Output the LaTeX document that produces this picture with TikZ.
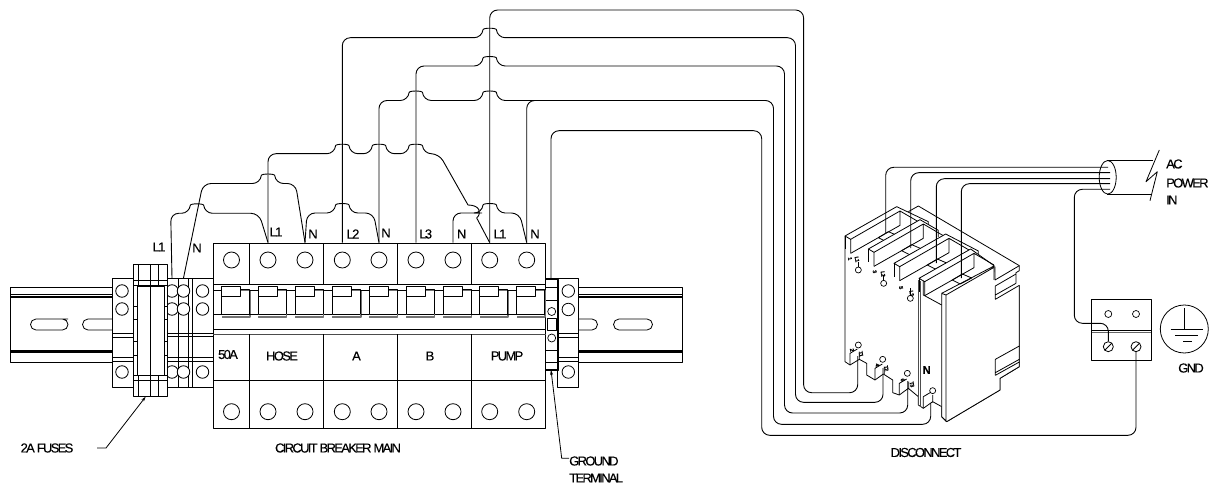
\documentclass[tikz,border=0pt]{standalone}
\usepackage{fontspec}
\setmainfont{Liberation Sans}[LetterSpace=-13,FakeBold=0.12]
\usetikzlibrary{arrows.meta,shapes.geometric}
\newcommand{\hop}[2]{-- (#1-7.5,#2) .. controls (#1-6.5,#2-10) and (#1+6.5,#2-10) .. (#1+7.5,#2)}
\tikzset{
  ln/.style={line width=0.8pt,draw=black},
  wire/.style={line width=0.9pt,draw=black,rounded corners=8pt},
  term/.style={circle,draw,line width=0.8pt,inner sep=0pt,minimum size=16pt},
  smallterm/.style={circle,draw,line width=0.8pt,fill=white,inner sep=0pt,minimum size=12.5pt},
  lab/.style={font=\fontsize{13}{13}\selectfont,inner sep=0pt,text=black},
  tiny/.style={font=\bfseries\fontsize{5.5}{5.5}\selectfont,inner sep=0pt,rotate=-80},
  shade/.style={line width=1.6pt,draw=black!55},
  lead/.style={line width=0.8pt,-{Stealth[length=5pt,width=3pt]}},
}
\begin{document}
\begin{tikzpicture}[x=1pt,y=-1pt,line join=round]
\useasboundingbox (0,0) rectangle (1215,489);
% ---------- DIN rail
\begin{scope}[ln]
\draw (112,287) -- (10,287) -- (10,362) -- (112,362);
\draw[line width=1.2pt] (10,297) -- (112,297) (10,352) -- (112,352);
\draw (10,294.5) -- (112,294.5) (10,350) -- (112,350);
\draw (68,319) -- (36,319) arc[start angle=90,end angle=270,radius=5.5pt] -- (62.5,330) arc[start angle=-90,end angle=90,radius=5.5pt];
\draw (112,319) -- (88,319) arc[start angle=90,end angle=270,radius=5.5pt] -- (112,330);
\draw (578,287) -- (682,287) -- (682,362) -- (578,362);
\draw[line width=1.2pt] (578,297) -- (682,297) (578,352) -- (682,352);
\draw (578,294.5) -- (682,294.5) (578,350) -- (682,350);
\draw (578,319) -- (592,319) arc[start angle=90,end angle=-90,radius=5.5pt] -- (578,330);
\draw (619,319) -- (647,319) arc[start angle=90,end angle=-90,radius=5.5pt] -- (619,330) arc[start angle=270,end angle=90,radius=5.5pt];
\end{scope}
% ---------- left end stop and terminals
\draw[ln] (112,278) rectangle (133,387);
\draw[ln] (112,333) -- (133,333) (112,337) -- (133,337) (112,357) -- (133,357) (112,361) -- (133,361);
\node[smallterm] (ea) at (122,291) {};
\node[smallterm] (eb) at (122,309) {};
\node[smallterm] (ec) at (122,372) {};
\draw[ln] (167,278) rectangle (213,387);
\draw[ln] (178,278) -- (178,387) (188.5,278) -- (188.5,387) (192.5,278) -- (192.5,387);
\draw[ln] (167,333) -- (213,333) (167,336) -- (213,336) (167,357) -- (213,357) (167,361) -- (213,361);
\foreach \n/\x in {a/172,b/183.5,c/202.5}{
  \node[smallterm] (t\n1) at (\x,291) {};
  \node[smallterm] (t\n2) at (\x,309) {};
  \node[smallterm] (t\n3) at (\x,372) {};
}
% ---------- fuse holder
\draw[ln,fill=white] (133,264.5) rectangle (167,396);
\draw[ln] (133,280) -- (167,280) (133,285) -- (167,285) (133,375) -- (167,375) (133,380) -- (167,380);
\draw[ln] (138,264.5) -- (138,285) (138,375) -- (138,396) (150,264.5) -- (150,396) (158,264.5) -- (158,285) (158,375) -- (158,396);
\draw[ln,fill=white] (137,286) rectangle (164,375);
\draw[ln] (150.5,286) -- (150.5,375);
\draw[ln] (133,306) -- (137,306) (133,319) -- (137,319) (133,341) -- (137,341) (133,355) -- (137,355)
          (164,306) -- (167,306) (164,319) -- (167,319) (164,341) -- (167,341) (164,355) -- (167,355);
% ---------- circuit breaker
\node[draw,ln,minimum width=332.7pt,minimum height=185pt,inner sep=0pt] (brk) at (379.35,335.5) {};
\draw[ln] (213,329.3) -- (546,329.3) (213,380) -- (546,380) (213,284.5) -- (546,284.5);
\draw[line width=1pt,draw=black!70] (213,334.3) -- (546,334.3);
\foreach \x in {249.5,323.5,397.3,471.3}{
  \draw[ln] (\x,243) -- (\x,284.5) (\x,334.3) -- (\x,428);
}
\foreach \n/\c in {1/231.5,2/268,3/305,4/342.3,5/379,6/416,7/453,8/489.7,9/526.7}{
  \node[term] (tt\n) at (\c,260) {};
  \node[term] (bt\n) at (\c,411.7) {};
  \draw[shade] (\c+9,290.5) -- (\c+18.5,290.5) -- (\c+18.5,317) -- (\c-10,317);
  \draw[ln] (\c-10,296) -- (\c-10,314) -- (\c+18,314) (\c+9,289) -- (\c+18,289) -- (\c+18,314);
  \draw[ln,fill=white] (\c-10,286) rectangle (\c+9,296);
  \draw[ln] (\c-18.5,290) -- (\c-10,290) (\c-18.5,314) -- (\c-10,314);
}
\node[lab] (t50a) at (228,354.5) {50A};
\node[lab] (thos) at (282,356) {HOSE};
\node[lab] (ta) at (356.5,356) {A};
\node[lab] (tb) at (430,356) {B};
\node[lab] (tp) at (507,356) {PUMP};
\node[lab] (tcb) at (338,448) {CIRCUIT BREAKER MAIN};
\node[lab] (tfu) at (47,448) {2A FUSES};
\node[lab] (l1a) at (159,247) {L1};
\node[lab] (na) at (197,248) {N};
\node[lab] (l1b) at (276,232) {L1};
\node[lab] (nb) at (313,234) {N};
\node[lab] (l2) at (353,234) {L2};
\node[lab] (nc) at (386,233) {N};
\node[lab] (l3) at (425.7,234) {L3};
\node[lab] (nd) at (461.7,234) {N};
\node[lab] (l1c) at (500,234) {L1};
\node[lab] (ne) at (535,234) {N};
% ---------- ground terminal
\draw[ln] (546,279) -- (558,279) -- (558,370) -- (546,370);
\draw[line width=1.2pt] (546,279) -- (558,279) (546,370) -- (558,370);
\draw[ln] (546,287) -- (558,287) (546,300.5) -- (558,300.5) (546,350) -- (558,350) (546,362) -- (558,362);
\draw[ln] (547,318) rectangle (556.5,330);
\node[circle,draw,line width=0.7pt,inner sep=0pt,minimum size=8pt] (gt1) at (551.7,311.5) {};
\node[circle,draw,line width=0.7pt,inner sep=0pt,minimum size=8pt] (gt2) at (551.7,338) {};
% right end stop
\draw[ln] (557.7,278) rectangle (578.3,387);
\draw[ln] (557.7,333) -- (578.3,333) (557.7,337) -- (578.3,337) (557.7,357) -- (578.3,357) (557.7,361) -- (578.3,361);
\node[smallterm] (ra) at (568.3,291) {};
\node[smallterm] (rb) at (568.3,309.5) {};
\node[smallterm] (rc) at (568.3,372) {};
% ---------- leaders
\coordinate (fuT) at (97,448);
\coordinate (fuA) at (145.7,396.7);
\draw[lead] (fuT) -- (106,448) -- (fuA);
\coordinate (grA) at (551,370);
\coordinate (grT) at (569,458.3);
\draw[lead] (grT) -- (561.7,458.3) -- (grA);
\node[lab,anchor=west] (gr1) at (569,461) {GROUND};
\node[lab,anchor=west] (gr2) at (569,478) {TERMINAL};
\node[lab] (tdis) at (926,452.5) {DISCONNECT};
% ---------- disconnect (coordinates of a 3x trace)
\begin{scope}[shift={(820,150)},x=0.33333pt,y=-0.33333pt]
 % left face and lower outline
 \draw[ln] (75,258) -- (75,635) -- (90,645) -- (118,628) -- (140,640) -- (140,675) -- (165,690) -- (190,672) -- (218,690) -- (218,728) -- (238,735) -- (265,715) -- (295,740) -- (295,765) -- (310,775) -- (338,755) -- (365,770) -- (365,800) -- (380,815) -- (540,720) -- (540,685) -- (598,650) -- (598,406);
 % rear plate and side brackets
 \draw[ln] (265,185) -- (295,168) -- (598,347) -- (598,362) -- (588,368) -- (588,400);
 \draw[ln] (525,350) -- (525,390) -- (598,347);
 % strips
 \foreach \ox/\oy/\ex/\ey in {75/258/250/-43,145/297/210/-56,222/340/253/-37,297/385/225/-38}{
  \begin{scope}[shift={(\ox,\oy)}]
   \fill[white] (0,0) -- (155,-88) -- (\ex,\ey) -- (\ex,\ey+20) -- (70,80) -- (70,22) -- (17,52) -- (17,10) -- cycle;
   \draw[ln] (17,52) -- (17,10) -- (0,0) -- (155,-88) -- (\ex,\ey) -- (\ex,\ey+20);
   \draw[ln] (17,10) -- (165,-75) -- (165,-32) -- (17,52) (165,-75) -- (225,-40);
   \draw[ln] (100,5) -- (130,-13) -- (158,-1) -- (124,17) -- cycle;
   \draw[ln] (0,0) -- (0,40);
  \end{scope}
 }
 % front block
 \fill[white] (378,435) -- (522,352) -- (522,400) -- (598,406) -- (598,650) -- (540,685) -- (540,720) -- (380,815) -- (365,800) -- (365,430) -- cycle;
 \draw[ln] (378,435) -- (378,815) (365,430) -- (378,435) (365,430) -- (365,800) -- (380,815) -- (540,720) -- (540,685) -- (598,650) -- (598,406);
 \draw[ln] (378,435) -- (522,352) (365,430) -- (522,348) -- (522,390) (310,392) -- (310,435) -- (365,465);
 \draw[ln,draw=black!70] (295,390) -- (295,765) (302,392) -- (302,770);
 \draw[ln] (526,408) -- (526,448) -- (598,406) (526,435) -- (588,400) (526,408) -- (588,372);
 \draw[ln] (526,628) -- (526,668) -- (598,628) (526,628) -- (598,588) (526,676) -- (598,636) (526,668)--(526,676);
 % pole terminals
 \foreach \bx/\by/\cx/\cy in {90/645/115/585,165/690/188/628,238/735/262/670,310/775/338/722}{
  \draw[ln] (\bx,\by) -- (\bx,\by-35) -- (\bx+22,\by-48) (\bx+28,\by-17) -- (\bx+28,\by-40);
  \node[circle,draw,line width=0.7pt,inner sep=0pt,minimum size=6pt] at (\cx,\cy) {};
 }
 \foreach \tx/\ty/\cy in {102/335/360,178/375/400,258/415/445}{
  \draw[ln] (\tx+13,\ty) -- (\tx+13,\cy-9);
  \node[circle,draw,line width=0.7pt,inner sep=0pt,minimum size=6pt] at (\tx+13,\cy) {};
 }
 \node[tiny] (d1a) at (90,326) {1};
 \node[tiny] (d1b) at (111,328) {L1};
 \node[tiny] (d3a) at (164,365) {3};
 \node[tiny] (d3b) at (189,372) {L2};
 \node[tiny] (d5a) at (243,413) {5};
 \node[tiny] (d5b) at (275,430) {L3};
 \node[tiny] (d2a) at (96,600) {2};
 \node[tiny] (d2b) at (123,612) {T1};
 \node[tiny] (d4a) at (172,645) {4};
 \node[tiny] (d4b) at (199,655) {T2};
 \node[tiny] (d6a) at (248,690) {6};
 \node[tiny] (d6b) at (276,703) {T3};
 \node[font=\bfseries\fontsize{11}{11}\selectfont,inner sep=0pt] (dn) at (320,660) {N};
\end{scope}
% ---------- grounding block, ground symbol
\draw[ln] (1091.7,299.3) rectangle (1151,360.7);
\draw[ln] (1091.7,330.2) -- (1151,330.2);
\draw[line width=1pt,draw=black!60] (1091.7,332) -- (1151,332);
\node[circle,draw,line width=0.7pt,inner sep=0pt,minimum size=7pt] (gb1) at (1108.3,314) {};
\node[circle,draw,line width=0.7pt,inner sep=0pt,minimum size=7pt] (gb2) at (1136,314) {};
\node[circle,draw,line width=0.8pt,inner sep=0pt,minimum size=10pt,path picture={\draw[line width=0.8pt] (path picture bounding box.south west) -- (path picture bounding box.north east);}] (sc1) at (1108.3,346.7) {};
\node[circle,draw,line width=0.8pt,inner sep=0pt,minimum size=10pt,path picture={\draw[line width=0.8pt] (path picture bounding box.south west) -- (path picture bounding box.north east);}] (sc2) at (1136,346.7) {};
\node[circle,draw,line width=0.8pt,inner sep=0pt,minimum size=48pt] (gnd) at (1184.3,329) {};
\draw[ln] (1184.3,308) -- (1184.3,329) (1170.7,329) -- (1202.7,329) (1175,335) -- (1198,335) (1183,341.7) -- (1192,341.7);
\node[lab] (tgnd) at (1191,368) {GND};
% ---------- cable
\node[draw,ellipse,line width=0.8pt,minimum width=17pt,minimum height=33.6pt,inner sep=0pt] (cab) at (1107.7,177.3) {};
\draw[ln] (1107,160.7) -- (1152.7,160.7) (1107,194.3) -- (1151,194.3);
\draw[ln] (1159.3,150) -- (1146,181.7) -- (1157.3,171.7) -- (1150,200.7);
\node[lab,anchor=west] (ac1) at (1166,164) {AC};
\node[lab,anchor=west] (ac2) at (1166,183) {POWER};
\node[lab,anchor=west] (ac3) at (1166,200) {IN};
% ---------- wires from the fuses
\coordinate (fL) at (ta1 |- 0,278);
\coordinate (fN) at (tb1 |- 0,278);
\draw[wire] (fL) -- (170.7,213.3) \hop{197}{213.3} -- (259,213.3) -- (tt2.center |- brk.north);
\draw[wire] (fN) -- (203,183.5) \hop{268}{183.5} -- (295.5,183.5) -- (tt3.center |- brk.north);
% L1 hose to L1 pump
\draw[wire] (tt2.center |- brk.north) -- (tt2.center |- 0,153.7) \hop{342.3}{153.7} \hop{379}{153.7} \hop{415.8}{153.7} -- (439,153.7) -- (468,205);
\draw[line width=0.9pt,draw=black] (468,205) .. controls (480,205) and (482,213) .. (476.7,218) -- (tt8.center |- brk.north);
% jumpers
\draw[wire] (tt3.center |- brk.north) -- (307,213) \hop{342.3}{213} -- (373.5,213) -- (tt5.center |- brk.north);
\draw[wire] (tt7.center |- brk.north) -- (tt7.center |- 0,213) -- (480,213);
\draw[wire] (482,213) \hop{489.7}{213} -- (519.5,213) -- (tt9.center |- brk.north);
% feeds to disconnect
\draw[wire] (tt8.center |- brk.north) -- (tt8.center |- 0,10) -- (803.6,10) -- (803.6,392.7) -- (857.7,392.7) -- (857.7,356);
\draw[wire] (tt4.center |- brk.north) -- (tt4.center |- 0,37.7) \hop{489.7}{37.7} -- (795.5,37.7) -- (795.5,402.3) -- (883,402.3) -- (883,368);
\draw[wire] (tt6.center |- brk.north) -- (tt6.center |- 0,66) \hop{489.7}{66} -- (784.5,66) -- (784.5,413) -- (907.7,413) -- (907.7,381);
\draw[wire] (tt5.center |- brk.north) -- (tt5.center |- 0,100.5) \hop{415.8}{100.5} \hop{489.7}{100.5} -- (773.5,100.5) -- (773.5,424.3) -- (930.7,424.3) -- (930.7,403);
\draw[wire] (tt9.center |- brk.north) -- (tt9.center |- 0,100.5) -- (560,100.5);
\draw[wire] (551,279) -- (551,130.7) -- (761.7,130.7) -- (761.7,435.3) -- (sc2.center |- 0,435.3) -- (sc2.south);
% feeds from the cable
\draw[wire] (885.7,233) -- (885.7,167.3) -- (1108,167.3);
\draw[wire] (910.7,248) -- (910.7,172.7) -- (1110,172.7);
\draw[wire] (936.3,263) -- (936.3,178.7) -- (1110,178.7);
\draw[wire] (961.3,278) -- (961.3,183.7) -- (1110,183.7);
\draw[wire] (1110,189.3) -- (1074.3,189.3) -- (1074.3,323.3) -- (1108.3,323.3) -- (sc1.north);
\end{tikzpicture}
\end{document}
